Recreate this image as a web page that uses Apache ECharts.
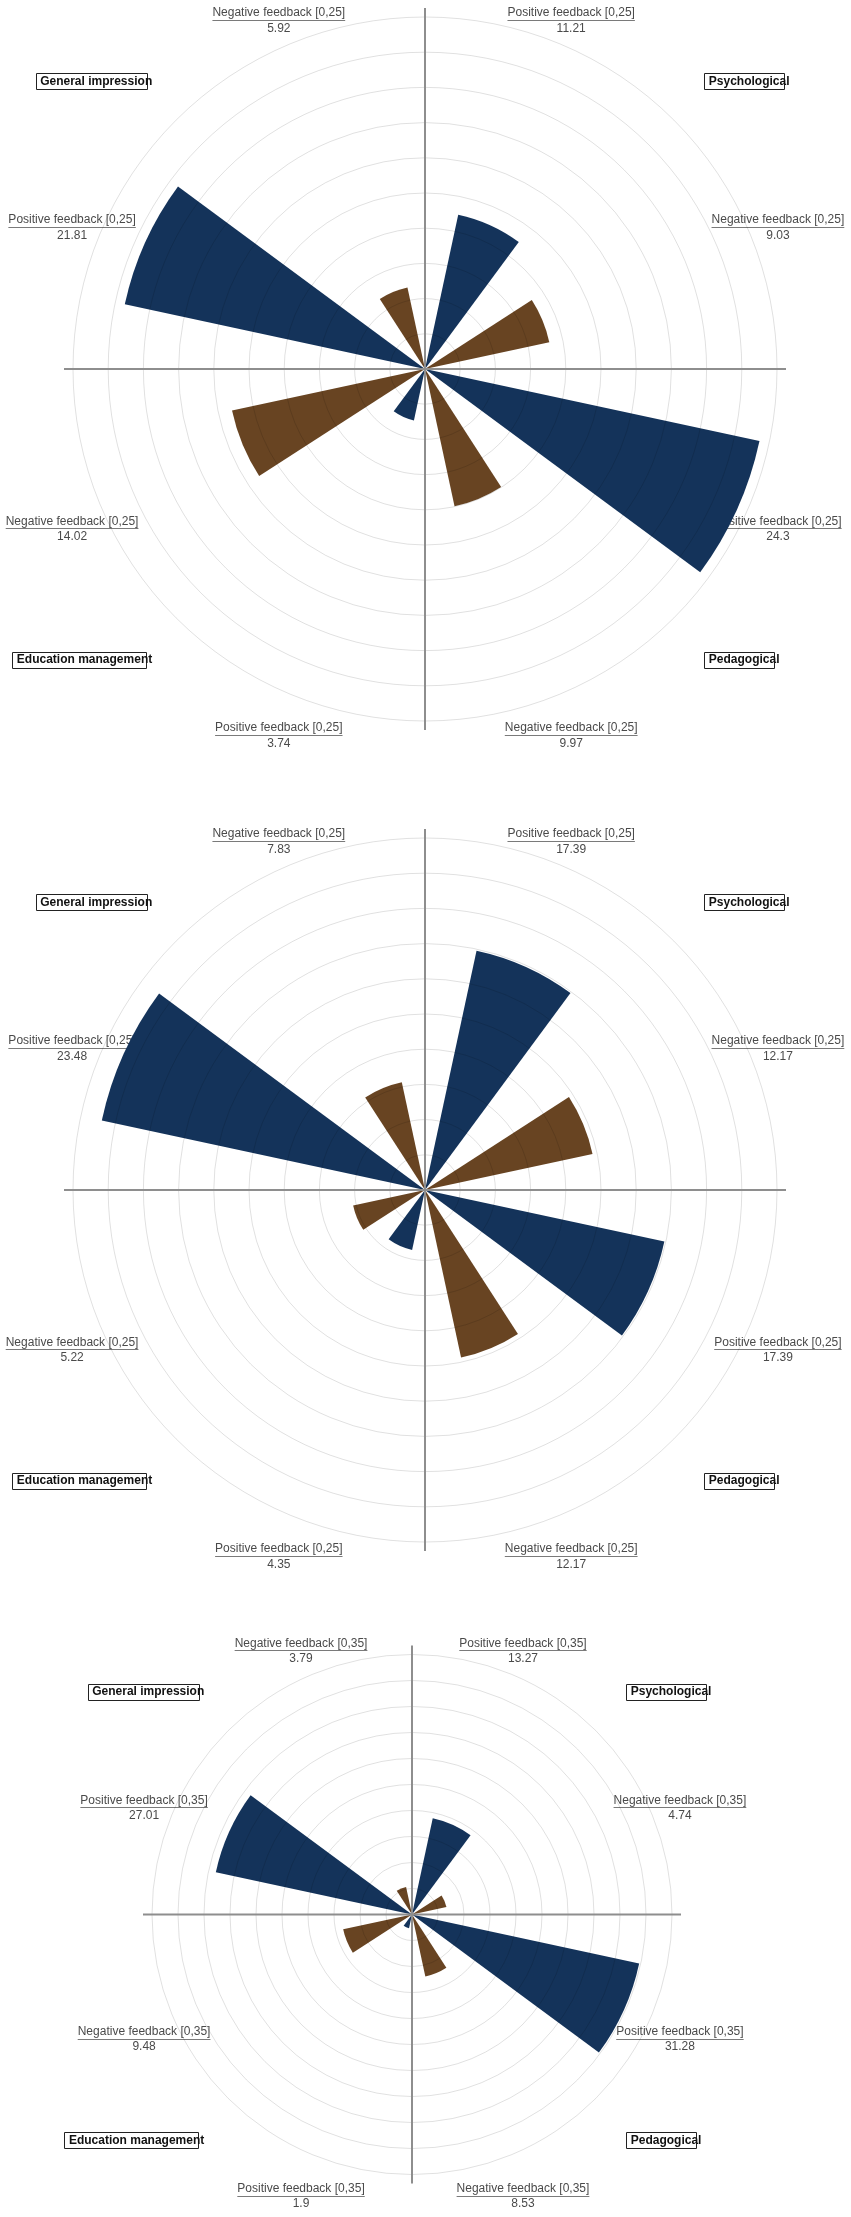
<!DOCTYPE html>
<html><head><meta charset="utf-8">
<script src="https://cdn.jsdelivr.net/npm/echarts@6/dist/echarts.min.js"></script>
<style>html,body{margin:0;padding:0;background:#fff}#c{width:851px;height:2217px}</style>
</head><body><div id="c"></div>
<script>
// ---- data ----
const groups = ['Psychological', 'Pedagogical', 'Education management', 'General impression'];
const feedbackTypes = ['Positive feedback', 'Negative feedback'];
const chart1Positive = [11.21, 24.3, 3.74, 21.81];
const chart1Negative = [9.03, 9.97, 14.02, 5.92];
const chart2Positive = [17.39, 17.39, 4.35, 23.48];
const chart2Negative = [12.17, 12.17, 5.22, 7.83];
const chart3Positive = [13.27, 31.28, 1.9, 27.01];
const chart3Negative = [4.74, 8.53, 9.48, 3.79];
const chart1Range = [0, 25];
const chart2Range = [0, 25];
const chart3Range = [0, 35];
const ringCount = 10;

// ---- layout / style ----
const panels = [
  {pos: chart1Positive, neg: chart1Negative, range: chart1Range, cx: 425, cy: 369, R: 352},
  {pos: chart2Positive, neg: chart2Negative, range: chart2Range, cx: 425, cy: 1190, R: 352},
  {pos: chart3Positive, neg: chart3Negative, range: chart3Range, cx: 412, cy: 1914.5, R: 260}
];
const posColor = '#14335a';
const negColor = '#684422';
const FONT = '"Liberation Sans", Arial, sans-serif';
const cv = document.createElement('canvas').getContext('2d');
function tw(t, f) { cv.font = f; return cv.measureText(t).width; }

const slots = [];
groups.forEach(g => { slots.push(g + ' | ' + feedbackTypes[0]); slots.push(g + ' | ' + feedbackTypes[1]); });

const polar = [], angleAxis = [], radiusAxis = [], series = [], graphic = [];
panels.forEach((p, k) => {
  const pb = 2 * k, ps = 2 * k + 1;
  polar.push({center: [p.cx, p.cy], radius: p.R});
  polar.push({center: [p.cx, p.cy], radius: p.R + 9});
  angleAxis.push({polarIndex: pb, type: 'category', data: slots, startAngle: 90, clockwise: true,
    axisLine: {show: false}, axisTick: {show: false}, axisLabel: {show: false},
    splitLine: {show: false}, splitArea: {show: false}});
  angleAxis.push({polarIndex: ps, type: 'category', data: ['N', 'E', 'S', 'W'], startAngle: 90, clockwise: true,
    axisLine: {show: false}, axisTick: {show: false}, axisLabel: {show: false},
    splitLine: {show: true, lineStyle: {color: '#8e8e8e', width: 2}}, z: 5});
  radiusAxis.push({polarIndex: pb, type: 'value', min: p.range[0], max: p.range[1],
    interval: (p.range[1] - p.range[0]) / ringCount,
    axisLine: {show: false}, axisTick: {show: false}, axisLabel: {show: false},
    splitLine: {show: true, lineStyle: {color: 'rgba(0,0,0,0.12)', width: 1}}, z: 3});
  radiusAxis.push({polarIndex: ps, type: 'value', min: 0, max: 1,
    axisLine: {show: false}, axisTick: {show: false}, axisLabel: {show: false}, splitLine: {show: false}});
  const posData = slots.map((s, i) => i % 2 === 0 ? p.pos[i / 2] : '-');
  const negData = slots.map((s, i) => i % 2 === 1 ? p.neg[(i - 1) / 2] : '-');
  series.push({type: 'bar', coordinateSystem: 'polar', polarIndex: pb, name: feedbackTypes[0],
    data: posData, barWidth: '54%', barGap: '-100%', itemStyle: {color: posColor}, silent: true});
  series.push({type: 'bar', coordinateSystem: 'polar', polarIndex: pb, name: feedbackTypes[1],
    data: negData, barWidth: '54%', barGap: '-100%', itemStyle: {color: negColor}, silent: true});

  // sector labels
  const rangeTxt = '[' + p.range[0] + ',' + p.range[1] + ']';
  slots.forEach((s, i) => {
    const th = (22.5 + 45 * i) * Math.PI / 180;
    const side = (i === 1 || i === 2 || i === 5 || i === 6);
    const ry = p.R + (side ? 42 : 35);
    const x = p.cx + (p.R + 30) * Math.sin(th);
    const y = p.cy - ry * Math.cos(th) + 1.5;
    const t1 = feedbackTypes[i % 2] + ' ' + rangeTxt;
    const v = i % 2 === 0 ? p.pos[i / 2] : p.neg[(i - 1) / 2];
    const f = '12px ' + FONT;
    const w = tw(t1, f);
    graphic.push({type: 'text', style: {text: t1, x: x, y: y, font: f, fill: '#4a4a4a', textAlign: 'center', verticalAlign: 'middle'}});
    graphic.push({type: 'line', shape: {x1: x - w / 2, y1: Math.round(y + 7) + 0.5, x2: x + w / 2, y2: Math.round(y + 7) + 0.5}, style: {stroke: '#7a7a7a', lineWidth: 1}});
    graphic.push({type: 'text', style: {text: String(v), x: x, y: y + 15.5, font: f, fill: '#4a4a4a', textAlign: 'center', verticalAlign: 'middle'}});
  });

  // group labels
  const a = (p.R + 55) * Math.SQRT1_2;
  const gpos = [[1, -1], [1, 1], [-1, 1], [-1, -1]];
  groups.forEach((g, j) => {
    const f = 'bold 12px ' + FONT;
    const w = tw(g, f);
    const [sx, sy] = gpos[j];
    const left = sx > 0 ? p.cx + a - 4 : p.cx - a + 15 - w;
    const y = sy < 0 ? p.cy - a : p.cy + a + 3;
    graphic.push({type: 'rect', shape: {x: Math.round(left - 4.5) + 0.5, y: Math.round(y - 8) + 0.5, width: Math.round(w - 1), height: 16},
      style: {fill: 'none', stroke: '#222', lineWidth: 1}});
    graphic.push({type: 'text', style: {text: g, x: left, y: y, font: f, fill: '#111', textAlign: 'left', verticalAlign: 'middle'}});
  });
});

const chart = echarts.init(document.getElementById('c'), null, {renderer: 'canvas'});
chart.setOption({
  backgroundColor: '#ffffff',
  animation: false,
  polar, angleAxis, radiusAxis, series, graphic
});
</script>
</body></html>
